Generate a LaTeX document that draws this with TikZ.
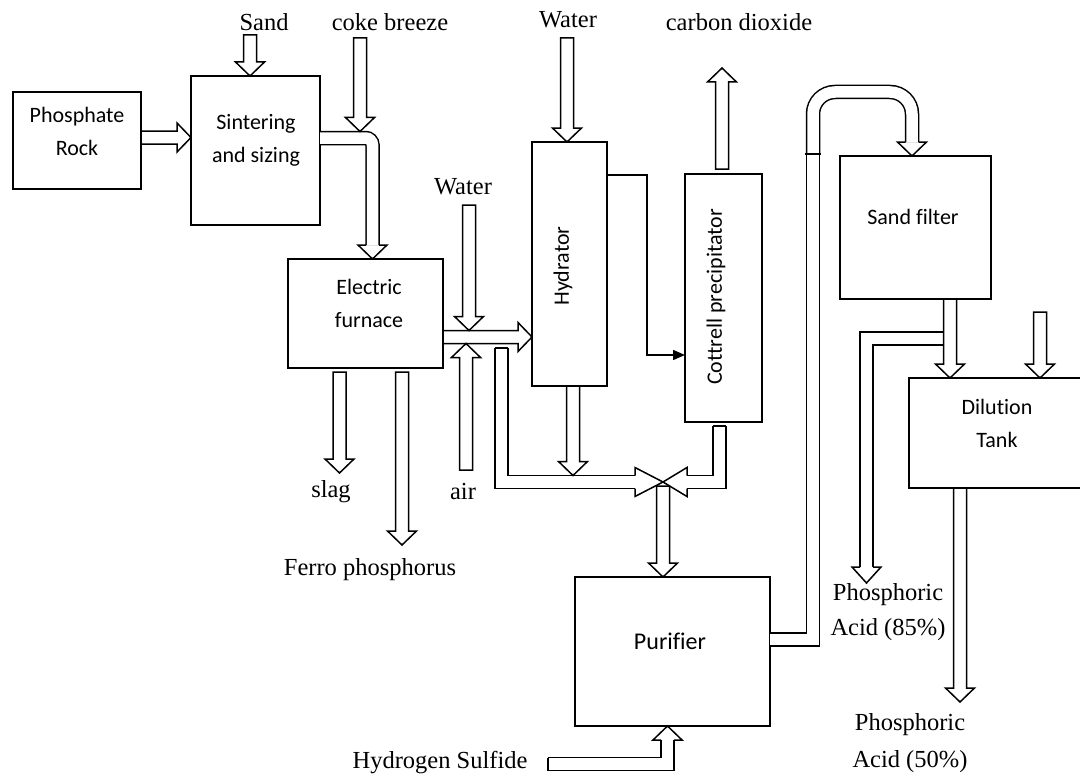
\documentclass[tikz,border=0pt]{standalone}
\usepackage{fontspec}
\setmainfont{Liberation Serif}
\newfontfamily\carlito{Carlito}[Ligatures=CommonOff]
\usetikzlibrary{arrows.meta,calc,positioning}
\tikzstyle{unit box} = [draw, line width=1.6pt, inner sep=0pt, outer sep=0pt]
\tikzstyle{unit text} = [font=\carlito\fontsize{22}{33}\selectfont, align=center, inner sep=0pt]
\tikzstyle{stream} = [font=\fontsize{24.5}{36}\selectfont, align=center, inner sep=0pt]
\tikzstyle{flow} = [draw, line width=1.5pt, line join=miter]
\tikzstyle{pipe} = [line width=1.5pt, double=white, double distance=11.5pt]
\tikzstyle{signal} = [line width=1.5pt, -{Triangle[length=12pt,width=10pt]}]
\def\flowpw{6.5pt}
\def\flowhw{14.5pt}
\def\flowhl{14pt}
% hollow arrow from #1 to the tip #2
\newcommand{\flow}[2]{%
  \coordinate (fb) at ($(#2)!\flowhl!(#1)$);
  \draw[flow] ($(#1)!\flowpw!90:(#2)$) -- ($(fb)!\flowpw!90:(#2)$) -- ($(fb)!\flowhw!90:(#2)$) -- (#2)
    -- ($(fb)!\flowhw!-90:(#2)$) -- ($(fb)!\flowpw!-90:(#2)$) -- ($(#1)!\flowpw!-90:(#2)$) -- cycle;}
% head on the end of a pipe, base #1, tip #2
\newcommand{\flowhead}[2]{%
  \draw[flow] ($(#1)!\flowpw!90:(#2)$) -- ($(#1)!\flowhw!90:(#2)$) -- (#2)
    -- ($(#1)!\flowhw!-90:(#2)$) -- ($(#1)!\flowpw!-90:(#2)$);}

\begin{document}
\begin{tikzpicture}[x=1pt,y=-1pt]
    \useasboundingbox (0,0) rectangle (1080,776);

    % units
    \node[unit box, line width=1.1pt, minimum width=128pt, minimum height=97pt] (rock) at (77,140.5) {};
    \node[unit box, line width=2.2pt, minimum width=129pt, minimum height=149pt] (sinter) at (255.5,150.5) {};
    \node[unit box, line width=1.8pt, minimum width=155pt, minimum height=109pt] (furnace) at (365.5,313.5) {};
    \node[unit box, minimum width=75pt, minimum height=244pt] (hydrator) at (569.5,264) {};
    \node[unit box, line width=2.8pt, minimum width=77pt, minimum height=248pt] (cottrell) at (723.5,298) {};
    \node[unit box, line width=2.2pt, minimum width=195pt, minimum height=149pt] (purifier) at (672.5,651.5) {};
    \node[unit box, line width=1.8pt, minimum width=151pt, minimum height=143pt] (sandfilter) at (915.5,227.5) {};
    \node[unit box, line width=2.2pt, minimum width=175pt, minimum height=110pt] (dilution) at (996.5,433) {};

    \node[unit text] (rocktext) at (77,131.5) {Phosphate\\Rock};
    \node[unit text] (sintertext) at (256,140.5) {Sintering\\and sizing};
    \node[unit text] (furnacetext) at (369,303) {Electric\\furnace};
    \node[unit text, rotate=90] (hydratortext) at (563,266) {Hydrator};
    \node[unit text, rotate=90] (cottrelltext) at (716,297) {Cottrell precipitator};
    \node[unit text, font=\carlito\fontsize{24}{28}\selectfont] (purifiertext) at (670,641) {Purifier};
    \node[unit text] (sandfiltertext) at (913,217) {Sand filter};
    \node[unit text] (dilutiontext) at (997,423) {Dilution\\Tank};

    % streams
    \node[stream] (sand) at (264,22) {Sand};
    \node[stream] (coke) at (390,22) {coke breeze};
    \node[stream] (water) at (568,20) {Water};
    \node[stream] (co2) at (739,22) {carbon dioxide};
    \node[stream] (water2) at (463,187) {Water};
    \node[stream] (slag) at (331,492) {slag};
    \node[stream] (air) at (463,492) {air};
    \node[stream] (ferro) at (370,570) {Ferro phosphorus};
    \node[stream] (h2s) at (440,763) {Hydrogen Sulfide};
    \node[stream, font=\fontsize{24.5}{35}\selectfont] (acid85) at (888,612.5) {Phosphoric\\Acid (85\%)};
    \node[stream, font=\fontsize{24.5}{37}\selectfont] (acid50) at (910,743.5) {Phosphoric\\Acid (50\%)};

    % pipes
    \draw[pipe, rounded corners=7pt] (sinter.east |- 0,138) -- (372.5,138) -- (372.5,245);
    \flowhead{372.5,245}{furnace.north -| 372.5,0};

    \draw[pipe] (501.5,348) -- (501.5,482) -- (635,482);
    \draw[flow] (495,348) -- (508,348);
    \flowhead{635,482}{663,482};

    \draw[pipe] (719.5,426) -- (719.5,482) -- (687,482);
    \draw[flow] (713,426) -- (726,426);
    \flowhead{687,482}{663,482};

    \draw[pipe] (548,764) -- (667.5,764) -- (667.5,740);
    \draw[flow] (548,757.5) -- (548,770.5);
    \flowhead{667.5,740}{purifier.south -| 667.5,0};

    \draw[pipe] (purifier.east |- 0,639.5) -- (813,639.5) -- (813,154);
    \draw[pipe, rounded corners=22pt] (813,154) -- (813,92) -- (912,92) -- (912,142);
    \draw[flow] (805,154) -- (821,154);
    \flowhead{912,142}{sandfilter.north -| 912,0};

    \draw[pipe] (943.5,338.5) -- (866.5,338.5) -- (866.5,567);
    \flowhead{866.5,567}{866.5,583};

    % straight streams
    \flow{rock.east |- 0,137.5}{sinter.west |- 0,137.5}
    \flow{250,35}{sinter.north -| 250,0}
    \flow{360,38}{360,131.5}
    \flow{furnace.east |- 0,337}{hydrator.west |- 0,337}
    \flow{469,205}{469,330.5}
    \flow{466,470}{466,343.5}
    \flow{339.5,372}{339.5,473}
    \flow{402,372}{402,545}
    \flow{567,38}{hydrator.north -| 567,0}
    \flow{hydrator.south -| 573,0}{573,475.5}
    \flow{722,169}{722,68}
    \flow{663,486}{purifier.north -| 663,0}
    \flow{sandfilter.south -| 950,0}{dilution.north -| 950,0}
    \flow{1040,312}{dilution.north -| 1040,0}
    \flow{dilution.south -| 960,0}{960,702}

    \draw[signal] (hydrator.east |- 0,175) -- (647,175) -- (647,355) -- (cottrell.west |- 0,355);
\end{tikzpicture}
\end{document}
